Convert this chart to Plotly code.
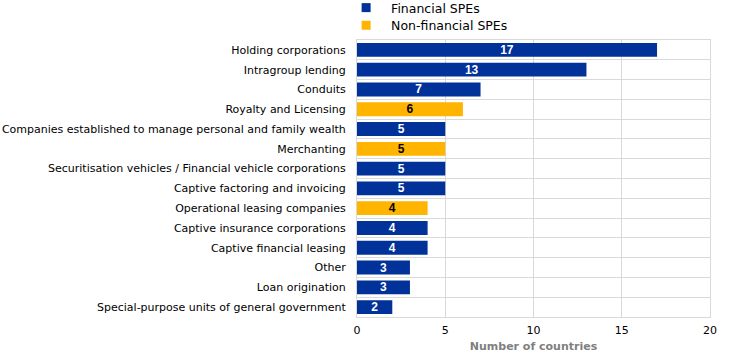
import plotly.graph_objects as go

categories = [
    "Holding corporations",
    "Intragroup lending",
    "Conduits",
    "Royalty and Licensing",
    "Companies established to manage personal and family wealth",
    "Merchanting",
    "Securitisation vehicles / Financial vehicle corporations",
    "Captive factoring and invoicing",
    "Operational leasing companies",
    "Captive insurance corporations",
    "Captive financial leasing",
    "Other",
    "Loan origination",
    "Special-purpose units of general government",
]
values = [17, 13, 7, 6, 5, 5, 5, 5, 4, 4, 4, 3, 3, 2]
kind = ["F", "F", "F", "N", "F", "N", "F", "F", "N", "F", "F", "F", "F", "F"]
series_names = {"F": "Financial SPEs", "N": "Non-financial SPEs"}

fin_vals = [v if k == "F" else None for v, k in zip(values, kind)]
non_vals = [v if k == "N" else None for v, k in zip(values, kind)]

BLUE = "#003299"
ORANGE = "#FFB400"
FONT = "DejaVu Sans, Verdana, sans-serif"
BARFONT = "Liberation Sans, Arial, sans-serif"

fig = go.Figure()
fig.add_trace(go.Bar(
    y=categories, x=fin_vals, orientation="h", name=series_names["F"],
    marker=dict(color=BLUE, line=dict(width=0)),
    text=[str(v) if v is not None else "" for v in fin_vals],
    textposition="inside", insidetextanchor="middle", textangle=0,
    constraintext="none",
    textfont=dict(color="white", size=12, family=BARFONT, weight="bold"),
    showlegend=False, legendgroup="F",
))
fig.add_trace(go.Bar(
    y=categories, x=non_vals, orientation="h", name=series_names["N"],
    marker=dict(color=ORANGE, line=dict(width=0)),
    text=[str(v) if v is not None else "" for v in non_vals],
    textposition="inside", insidetextanchor="middle", textangle=0,
    constraintext="none",
    textfont=dict(color="black", size=12, family=BARFONT, weight="bold"),
    showlegend=False, legendgroup="N",
))
# legend entries (square swatches)
fig.add_trace(go.Scatter(x=[None], y=[None], mode="markers", name=series_names["F"],
                         marker=dict(symbol="square", size=9, color=BLUE),
                         legend="legend", legendgroup="F", hoverinfo="skip"))
fig.add_trace(go.Scatter(x=[None], y=[None], mode="markers", name=series_names["N"],
                         marker=dict(symbol="square", size=9, color=ORANGE),
                         legend="legend2", legendgroup="N", hoverinfo="skip"))

leg_common = dict(orientation="v", x=-0.045, xanchor="left", yref="container",
                  yanchor="middle", font=dict(size=12.5, color="#000000", family=FONT),
                  bgcolor="rgba(0,0,0,0)", itemwidth=40)

fig.update_layout(
    width=741, height=358,
    margin=dict(l=357, r=31, t=40, b=41, autoexpand=False),
    paper_bgcolor="white", plot_bgcolor="white",
    barmode="relative", bargap=0.3,
    font=dict(family=FONT, size=11, color="#000000"),
    showlegend=True,
    legend=dict(y=1 - 8 / 358, **leg_common),
    legend2=dict(y=1 - 25.5 / 358, **leg_common),
    xaxis=dict(range=[0, 20], tickvals=[0, 5, 10, 15, 20], showgrid=True,
               gridcolor="#d9d9d9", gridwidth=1, zeroline=False,
               showline=True, linecolor="#d9d9d9", mirror=True, automargin=False,
               ticks="", ticklabelstandoff=3, tickfont=dict(size=11, color="#000000"),
               title=dict(text="Number of countries", standoff=6,
                          font=dict(size=11, color="#7f7f7f", weight="bold"))),
    yaxis=dict(type="category", categoryorder="array", categoryarray=categories,
               autorange="reversed", tickson="boundaries", showgrid=True,
               gridcolor="#d9d9d9", gridwidth=1, ticks="", automargin=False,
               showline=True, linecolor="#d9d9d9", mirror=True,
               ticklabelstandoff=8,
               tickfont=dict(size=11, color="#000000")),
)

fig.write_html("out.html", config={"displayModeBar": False},
               post_script="document.body.style.margin='0';")
